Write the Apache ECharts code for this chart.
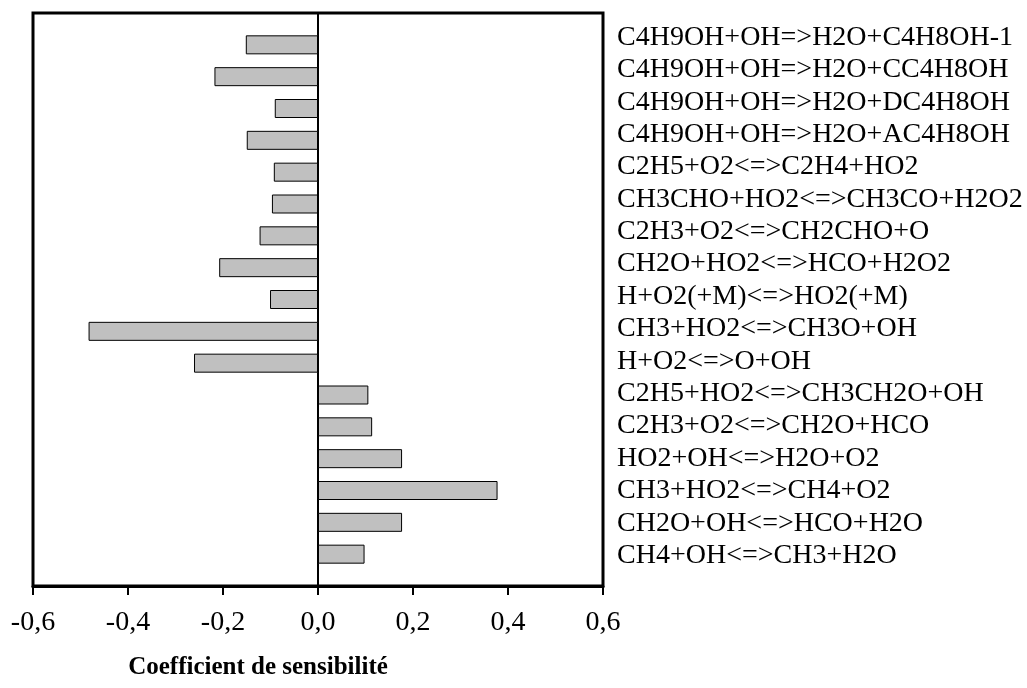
<!DOCTYPE html>
<html>
<head>
<meta charset="utf-8">
<script src="https://cdn.jsdelivr.net/npm/echarts@6/dist/echarts.min.js"></script>
<style>
html,body{margin:0;padding:0;background:#fff;}
#chart{width:1027px;height:688px;}
</style>
</head>
<body>
<div id="chart"></div>
<script>
// Reactions, listed top to bottom
const reactions = [
  'C4H9OH+OH=>H2O+C4H8OH-1',
  'C4H9OH+OH=>H2O+CC4H8OH',
  'C4H9OH+OH=>H2O+DC4H8OH',
  'C4H9OH+OH=>H2O+AC4H8OH',
  'C2H5+O2<=>C2H4+HO2',
  'CH3CHO+HO2<=>CH3CO+H2O2',
  'C2H3+O2<=>CH2CHO+O',
  'CH2O+HO2<=>HCO+H2O2',
  'H+O2(+M)<=>HO2(+M)',
  'CH3+HO2<=>CH3O+OH',
  'H+O2<=>O+OH',
  'C2H5+HO2<=>CH3CH2O+OH',
  'C2H3+O2<=>CH2O+HCO',
  'HO2+OH<=>H2O+O2',
  'CH3+HO2<=>CH4+O2',
  'CH2O+OH<=>HCO+H2O',
  'CH4+OH<=>CH3+H2O'
];
// Sensitivity coefficients, same order
const sensitivity = [
  -0.152, -0.218, -0.091, -0.150, -0.093, -0.097, -0.123, -0.208, -0.101,
  -0.483, -0.261, 0.106, 0.114, 0.177, 0.378, 0.177, 0.098
];
const xTicks = { min: -0.6, max: 0.6, step: 0.2 };
const axisTitle = 'Coefficient de sensibilité';

const cats = [''].concat(reactions, ['']);
const vals = [null].concat(sensitivity, [null]);

const FONT = '"Liberation Serif", "Times New Roman", serif';
const chart = echarts.init(document.getElementById('chart'), null, {renderer: 'canvas'});
chart.setOption({
  backgroundColor: '#fff',
  animation: false,
  grid: [
    {left: 33, right: 424, top: 13, bottom: 102, show: true, borderColor: '#000', borderWidth: 3, backgroundColor: 'transparent'},
    {left: 33, right: 424, top: 5, bottom: 100, show: false}
  ],
  xAxis: [
    {
      gridIndex: 0, type: 'value', min: xTicks.min, max: xTicks.max, interval: xTicks.step,
      axisLine: {show: true, onZero: false, lineStyle: {color: '#000', width: 3}},
      axisTick: {show: true, length: 9, lineStyle: {color: '#000', width: 2}},
      splitLine: {show: false},
      axisLabel: {
        margin: 23, color: '#000', fontFamily: FONT, fontSize: 28,
        formatter: v => (Math.abs(v) < 1e-9 ? 0 : v).toFixed(1).replace('.', ',')
      }
    },
    {gridIndex: 1, type: 'value', min: 0, max: 1, show: false}
  ],
  yAxis: [
    {
      gridIndex: 0, type: 'category', data: cats, inverse: true, boundaryGap: false,
      axisLine: {show: true, onZero: true, lineStyle: {color: '#000', width: 2}},
      axisTick: {show: false}, axisLabel: {show: false}, splitLine: {show: false}
    },
    {
      gridIndex: 1, type: 'category', data: cats, inverse: true, boundaryGap: false,
      position: 'right',
      axisLine: {show: false}, axisTick: {show: false}, splitLine: {show: false},
      axisLabel: {show: true, interval: 0, margin: 14, color: '#000', fontFamily: FONT, fontSize: 28, align: 'left'}
    }
  ],
  series: [
    {
      type: 'bar', xAxisIndex: 0, yAxisIndex: 0, data: vals, barWidth: 19,
      itemStyle: {color: '#c0c0c0', borderColor: '#000', borderWidth: 1}
    }
  ],
  graphic: [
    {
      type: 'text', x: 258, y: 668,
      style: {text: axisTitle, fill: '#000', font: 'bold 25px ' + FONT, textAlign: 'center', textVerticalAlign: 'middle'}
    }
  ]
});
</script>
</body>
</html>
